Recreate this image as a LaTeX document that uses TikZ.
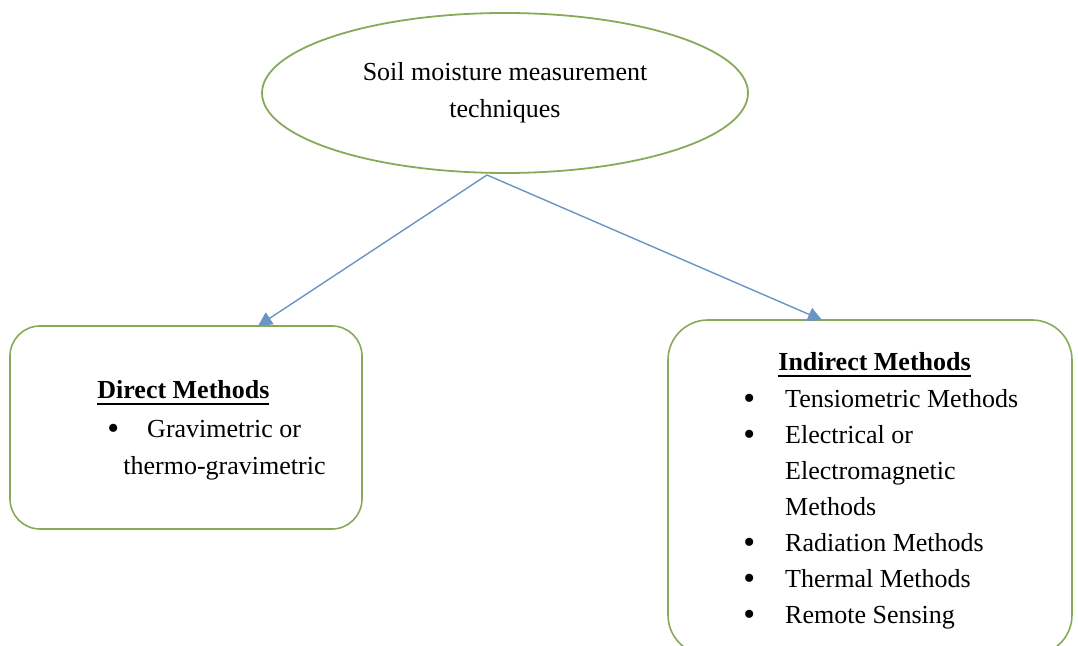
\documentclass[tikz,border=0pt]{standalone}
\usepackage{fontspec}
\setmainfont{Liberation Serif}
\usepackage{graphicx}
\usepackage{tkz-euclide}
\usetikzlibrary{shapes.geometric,arrows.meta}

\definecolor{olivegreen}{RGB}{135,170,90}
\definecolor{linkblue}{RGB}{105,148,198}

\newsavebox{\headbox}
\newcommand{\itemdot}{\raisebox{-0.6pt}{\scalebox{1.3}{\textbullet}}}
\newcommand{\headtext}[1]{\sbox{\headbox}{\textbf{#1}}\usebox{\headbox}\llap{\rule[-3pt]{\wd\headbox}{0.9pt}}}

\tikzset{
  topic/.style={ellipse, draw=olivegreen, line width=0.9pt, minimum width=243pt,
    minimum height=80pt, align=center, inner sep=0pt},
  methodbox/.style={rectangle, draw=olivegreen, line width=0.8pt},
  boxtext/.style={anchor=base west, inner sep=0pt},
  link/.style={draw=linkblue, line width=0.7pt, -{Triangle[length=7pt,width=7pt]}}
}

\begin{document}
\begin{tikzpicture}[x=0.5pt,y=-0.5pt,font=\fontsize{13}{18.5}\selectfont]
            \useasboundingbox (0,0) rectangle (1078,646);
            \tkzDefPoints{487/175/F,258/326/L,822/320/R}
            \node[topic] (soil) at (505,93) {\raisebox{-1.5pt}{Soil moisture measurement}\\\raisebox{-1.5pt}{techniques}};
            \node[methodbox,minimum width=176pt,minimum height=101.5pt,rounded corners=15pt] (direct) at (186,427.5) {};
            \node[methodbox,minimum width=202pt,minimum height=167.5pt,rounded corners=20pt] (indirect) at (870,487.5) {};
            % direct side
            \node[boxtext] (dhead) at (97,399) {\headtext{Direct Methods}};
            \node[boxtext] (dlist) at (107,438) {\begin{tabular}[t]{@{}l@{}}
                \itemdot\hspace{14pt}Gravimetric or\\
                \hspace*{8pt}thermo-gravimetric
              \end{tabular}};
            % indirect side
            \node[boxtext] (ihead) at (778,371) {\headtext{Indirect Methods}};
            \node[boxtext,font=\fontsize{13}{18}\selectfont] (ilist) at (743,408) {\begin{tabular}[t]{@{}l@{\hspace{15pt}}l@{}}
                \itemdot & Tensiometric Methods\\
                \itemdot & Electrical or\\
                         & Electromagnetic\\
                         & Methods\\
                \itemdot & Radiation Methods\\
                \itemdot & Thermal Methods\\
                \itemdot & Remote Sensing
              \end{tabular}};
            \draw[link] (F) -- (L);
            \draw[link] (F) -- (R);
        \end{tikzpicture}
\end{document}
